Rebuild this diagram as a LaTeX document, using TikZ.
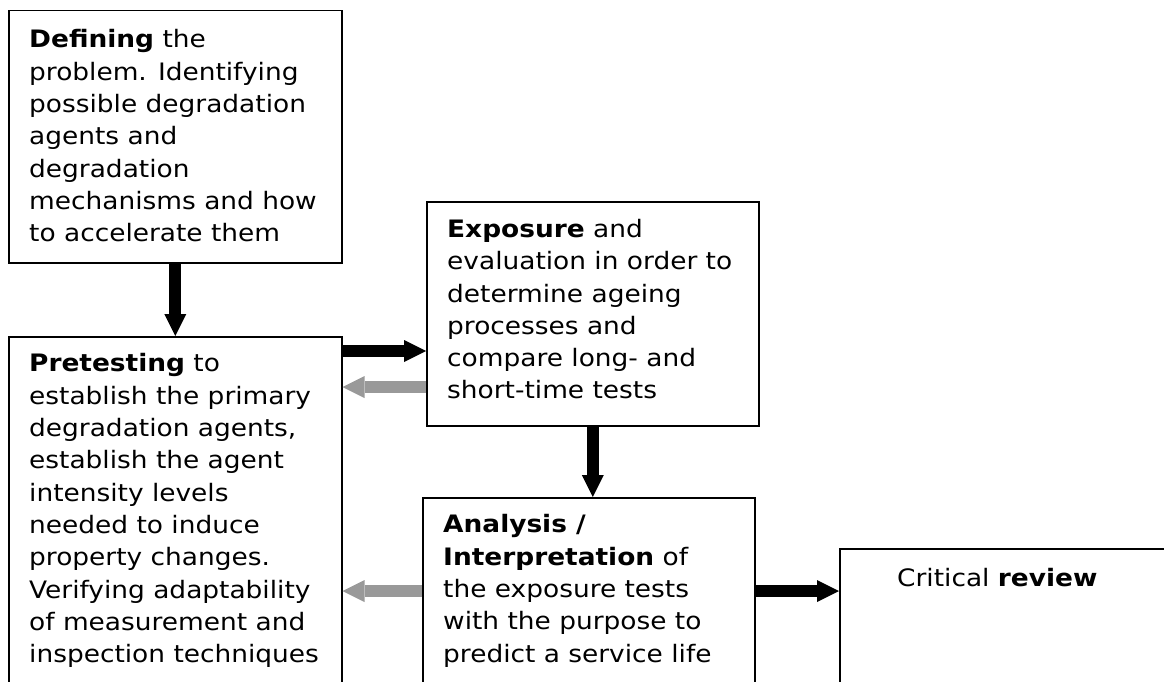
\documentclass[tikz,border=0pt]{standalone}
\usepackage{fontspec}
\setmainfont[FakeStretch=1.1]{DejaVu Sans}
\usepackage{tikz}
\usetikzlibrary{arrows.meta}
\definecolor{backgray}{RGB}{153,153,153}

\begin{document}
\begin{tikzpicture}[x=1pt, y=-1pt,
    box/.style={draw, line width=1.5pt, anchor=north west, inner sep=0pt},
    txt/.style={anchor=north west, inner sep=0pt, align=left,
        font=\fontsize{24}{32.3}\selectfont},
    fat/.style={line width=12pt, -{Triangle[length=22pt, width=22pt, line width=0pt]}}]
    \useasboundingbox (0,0) rectangle (1164,682);

    % Boxes (the lower ones run past the page edge)
    \node[box, minimum width=333pt, minimum height=252pt] (define) at (8,10) {};
    \node[box, minimum width=333pt, minimum height=400pt] (pretest) at (8,336) {};
    \node[box, minimum width=332pt, minimum height=224pt] (expose) at (426,201) {};
    \node[box, minimum width=332pt, minimum height=300pt] (analyse) at (422,497) {};
    \node[box, minimum width=400pt, minimum height=300pt] (review) at (839,548) {};

    % Texts
    \node[txt] (definetext) at (29,29.5) {\textbf{Defining} the\\ problem. Identifying\\
        possible degradation\\ agents and\\ degradation\\ mechanisms and how\\
        to accelerate them};
    \node[txt] (pretesttext) at (29,353.5) {\textbf{Pretesting} to\\
        establish the primary\\ degradation agents,\\ establish the agent\\
        intensity levels\\ needed to induce\\ property changes.\\
        Verifying adaptability\\ of measurement and\\ inspection techniques};
    \node[txt] (exposetext) at (447,219) {\textbf{Exposure} and\\
        evaluation in order to\\ determine ageing\\ processes and\\
        compare long- and\\ short-time tests};
    \node[txt] (analysetext) at (443,514.5) {\textbf{Analysis /}\\
        \textbf{Interpretation} of\\ the exposure tests\\
        with the purpose to\\ predict a service life};
    \node[txt] (reviewtext) at (897,568) {Critical \textbf{review}};

    % Arrows
    \coordinate (fwd) at ([yshift=-15pt]pretest.north east);
    \coordinate (back) at ([yshift=-51pt]pretest.north east);
    \coordinate (out) at ([yshift=-94pt]analyse.north west);

    \draw[fat] (define.south) -- (define.south |- pretest.north);
    \draw[fat] (fwd) -- (fwd -| expose.west);
    \draw[fat, backgray] (back -| expose.west) -- (back);
    \draw[fat] (expose.south) -- (expose.south |- analyse.north);
    \draw[fat, backgray] (out) -- (out -| pretest.east);
    \draw[fat] (out -| analyse.east) -- (out -| review.west);
\end{tikzpicture}
\end{document}
